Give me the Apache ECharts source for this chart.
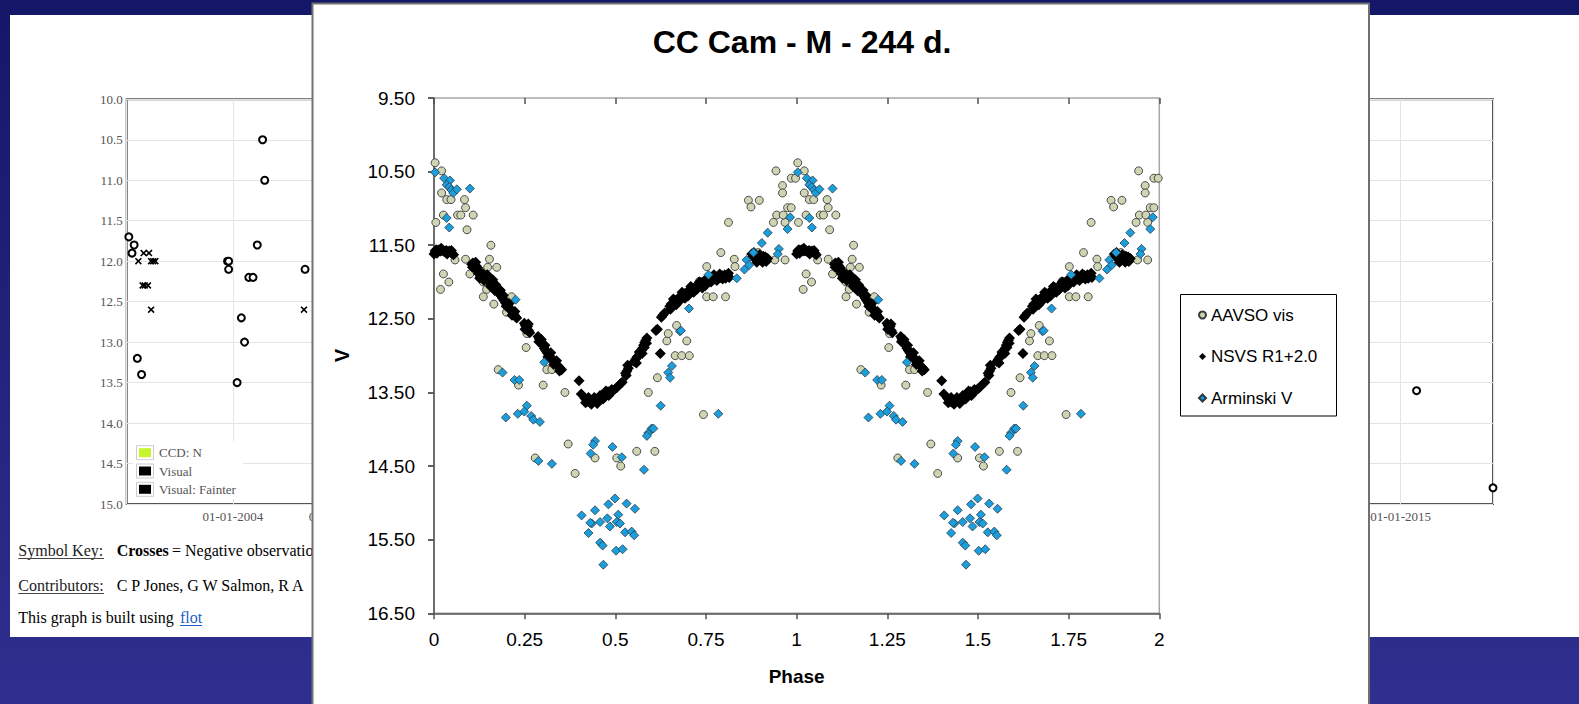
<!DOCTYPE html>
<html><head><meta charset="utf-8">
<script src="https://cdn.jsdelivr.net/npm/echarts@6/dist/echarts.min.js"></script>
<style>
html,body{margin:0;padding:0;width:1579px;height:704px;overflow:hidden;background:linear-gradient(to bottom,#141768 0%,#2f2f8f 100%);}
#panel{position:absolute;left:10px;top:15px;width:1569px;height:622px;background:#fff;}
#chart{position:absolute;left:0;top:0;width:1579px;height:704px;}
</style></head><body>
<div id="panel"></div>
<div id="chart"></div>
<script>
// ---------- Main chart (phase diagram) data: [phase, V mag], one cycle 0..1 ----------
const aavsoVis = [
[0.003,10.38],[0.021,10.49],[0.021,10.79],[0.035,10.88],[0.047,10.88],[0.084,10.88],[0.087,10.99],
[0.026,11.09],[0.065,11.09],[0.074,11.09],[0.108,11.09],[0.005,11.19],[0.091,11.29],[0.157,11.50],
[0.058,11.70],[0.087,11.69],[0.153,11.69],[0.148,11.80],[0.173,11.80],[0.099,11.89],[0.026,11.89],
[0.041,12.00],[0.018,12.10],[0.145,12.10],[0.136,12.00],[0.136,12.20],[0.165,12.30],[0.214,12.20],
[0.200,12.41],[0.256,12.70],[0.254,12.89],[0.177,13.19],[0.233,13.40],[0.301,13.40],[0.311,13.19],
[0.325,13.19],[0.361,13.50],[0.370,14.20],[0.279,14.39],[0.389,14.60],[0.444,14.39],[0.504,14.39],
[0.515,14.50],[0.559,14.30],[0.609,14.30],[0.591,13.50],[0.616,13.30],[0.642,12.80],[0.646,12.70],
[0.697,12.80],[0.665,13.00],[0.683,13.00],[0.704,13.00],[0.743,13.80],[0.669,12.59],[0.732,11.99],
[0.752,12.20],[0.770,12.20],[0.804,12.20],[0.752,11.79],[0.791,11.60],[0.828,11.69],[0.830,11.79],
[0.894,11.60],[0.918,11.70],[0.940,11.70],[0.968,11.70],[0.812,11.19],[0.936,11.19],[0.968,11.19],
[0.945,11.09],[0.963,11.09],[0.867,10.89],[0.897,10.89],[0.874,10.98],[0.975,10.99],[0.985,10.99],
[0.961,10.69],[0.961,10.79],[0.985,10.59],[0.997,10.59],[0.943,10.49]
];
const nsvsR1 = [
[0.000,11.62],[0.003,11.58],[0.006,11.56],[0.010,11.57],[0.014,11.56],[0.018,11.58],[0.022,11.57],
[0.026,11.58],[0.030,11.59],[0.034,11.57],[0.038,11.59],[0.042,11.58],[0.046,11.60],[0.050,11.61],[0.054,11.63],
[0.008,11.61],[0.020,11.54],[0.036,11.62],[0.048,11.57],
[0.104,11.76],[0.107,11.74],[0.110,11.77],[0.113,11.80],[0.116,11.78],[0.119,11.84],[0.122,11.88],[0.125,11.86],[0.128,11.92],
[0.106,11.80],[0.115,11.73],[0.121,11.81],[0.126,11.95],
[0.136,11.89],[0.139,11.93],[0.142,11.91],[0.145,11.95],[0.148,11.98],[0.151,11.94],[0.154,11.99],[0.157,12.02],
[0.160,12.00],[0.163,12.05],[0.166,12.07],[0.170,12.09],[0.173,12.12],
[0.138,11.98],[0.147,11.90],[0.156,12.06],[0.162,11.97],[0.168,12.12],[0.171,12.04],
[0.177,12.13],[0.181,12.16],[0.185,12.19],[0.189,12.22],[0.193,12.25],[0.197,12.28],[0.201,12.31],[0.205,12.33],
[0.209,12.36],[0.213,12.39],[0.217,12.41],[0.221,12.44],[0.225,12.47],[0.228,12.49],
[0.183,12.11],[0.191,12.18],[0.199,12.33],[0.207,12.29],[0.215,12.45],[0.223,12.40],
[0.249,12.56],[0.252,12.59],[0.255,12.62],[0.258,12.60],[0.261,12.66],[0.264,12.69],[0.251,12.64],[0.260,12.57],
[0.287,12.74],[0.290,12.77],[0.293,12.80],[0.296,12.78],[0.300,12.86],[0.304,12.90],[0.308,12.93],[0.312,12.96],
[0.316,12.99],[0.320,13.01],[0.324,13.04],[0.328,13.06],[0.332,13.09],[0.336,13.11],[0.340,13.13],[0.344,13.15],
[0.348,13.17],[0.352,13.19],
[0.289,12.81],[0.298,12.84],[0.306,12.86],[0.314,13.02],[0.322,12.96],[0.330,13.12],[0.338,13.07],[0.346,13.21],
[0.400,13.34],[0.406,13.52],
[0.416,13.58],[0.420,13.60],[0.424,13.62],[0.428,13.63],[0.432,13.61],[0.436,13.63],[0.440,13.62],[0.444,13.60],
[0.448,13.62],[0.452,13.59],[0.456,13.60],[0.460,13.57],[0.464,13.56],[0.468,13.53],[0.472,13.55],[0.476,13.51],
[0.480,13.49],[0.485,13.50],[0.490,13.46],[0.495,13.47],[0.500,13.45],[0.505,13.43],
[0.418,13.64],[0.426,13.57],[0.434,13.66],[0.442,13.57],[0.450,13.65],[0.458,13.54],[0.466,13.59],[0.474,13.48],[0.482,13.54],
[0.515,13.38],[0.519,13.36],[0.528,13.24],[0.532,13.21],[0.536,13.17],[0.552,13.08],[0.556,13.05],[0.560,13.02],
[0.564,13.00],[0.568,12.97],[0.572,12.93],[0.575,12.90],[0.578,12.86],[0.581,12.82],[0.584,12.79],[0.587,12.76],
[0.530,13.27],[0.534,13.13],[0.558,13.10],[0.566,12.95],[0.574,12.97],[0.580,12.89],[0.586,12.83],
[0.624,12.97],[0.612,12.66],[0.616,12.64],[0.627,12.48],[0.631,12.45],[0.636,12.42],
[0.650,12.33],[0.654,12.30],[0.658,12.32],[0.662,12.27],[0.666,12.25],[0.670,12.28],[0.674,12.22],[0.678,12.20],
[0.682,12.23],[0.686,12.18],[0.690,12.16],[0.694,12.19],[0.698,12.14],[0.702,12.12],[0.706,12.15],[0.710,12.10],
[0.714,12.08],[0.718,12.11],[0.722,12.06],[0.726,12.04],[0.730,12.07],[0.734,12.02],[0.738,12.05],[0.742,12.00],
[0.746,11.98],[0.750,12.02],[0.754,11.97],[0.758,11.99],[0.762,11.95],[0.766,11.97],[0.770,11.94],[0.774,11.96],
[0.778,11.93],[0.782,11.95],[0.786,11.92],[0.790,11.94],[0.794,11.91],[0.798,11.93],[0.802,11.90],[0.806,11.93],
[0.810,11.91],[0.814,11.94],
[0.652,12.37],[0.660,12.23],[0.668,12.31],[0.676,12.26],[0.684,12.14],[0.692,12.22],[0.700,12.19],[0.708,12.06],
[0.716,12.14],[0.724,12.10],[0.732,12.00],[0.740,12.08],[0.748,12.05],[0.756,11.94],[0.764,12.00],[0.772,11.90],
[0.780,11.98],[0.788,11.89],[0.796,11.96],[0.804,11.95],[0.812,11.88],
[0.876,11.62],[0.880,11.65],[0.884,11.68],[0.888,11.64],[0.892,11.69],[0.896,11.70],[0.900,11.66],[0.904,11.68],
[0.908,11.65],[0.912,11.70],[0.916,11.72],[0.920,11.68],
[0.882,11.60],[0.890,11.73],[0.898,11.63],[0.906,11.73],[0.914,11.66]
];
const arminskiV = [
[0.003,10.51],[0.028,10.59],[0.044,10.62],[0.035,10.68],[0.042,10.71],[0.048,10.75],[0.053,10.79],[0.063,10.74],
[0.099,10.73],[0.035,11.13],[0.042,11.26],[0.225,12.24],[0.304,13.09],[0.189,13.23],[0.222,13.33],[0.235,13.33],
[0.198,13.84],[0.231,13.79],[0.256,13.68],[0.249,13.76],[0.268,13.82],[0.274,13.87],[0.292,13.90],[0.288,14.43],
[0.325,14.47],[0.444,14.16],[0.439,14.21],[0.432,14.33],[0.492,14.24],[0.518,14.38],[0.579,14.55],
[0.407,15.17],[0.444,15.10],[0.481,15.02],[0.499,14.94],[0.531,15.01],[0.554,15.08],[0.435,15.28],[0.458,15.26],
[0.478,15.21],[0.508,15.16],[0.504,15.26],[0.513,15.28],[0.485,15.32],[0.426,15.41],[0.527,15.40],[0.545,15.39],
[0.552,15.44],[0.458,15.54],[0.465,15.58],[0.502,15.65],[0.520,15.63],[0.467,15.84],[0.431,15.27],
[0.625,13.68],[0.591,14.05],[0.600,13.99],[0.605,13.99],[0.587,14.09],[0.646,13.23],[0.651,13.30],[0.656,13.14],
[0.678,12.67],[0.784,13.79],[0.982,11.12],[0.975,11.28],[0.920,11.33],[0.904,11.47],[0.951,11.55],[0.948,11.62],
[0.881,11.60],[0.862,11.70],[0.869,11.77],[0.856,11.83],[0.835,11.95],[0.757,11.90],[0.703,12.36],[0.681,12.66]
];
const seriesNames = ['AAVSO vis','NSVS R1+2.0','Arminski V'];
const magTicks = [9.5,10.5,11.5,12.5,13.5,14.5,15.5,16.5];
const chartTitle = 'CC Cam - M - 244 d.';

// ---------- Background web page (flot light curve) data: [year, mag] ----------
const flotVisual = [
[2003.02,11.7],[2003.07,11.8],[2003.05,11.9],[2003.10,13.2],[2003.14,13.4],[2003.95,12.0],[2003.96,12.0],
[2003.96,12.1],[2004.04,13.5],[2004.08,12.7],[2004.11,13.0],[2004.15,12.2],[2004.19,12.2],[2004.23,11.8],
[2004.28,10.5],[2004.30,11.0],[2004.68,12.1],[2015.15,13.6],[2015.87,14.8]
];
const flotFainter = [
[2003.11,12.0],[2003.16,11.9],[2003.21,11.9],[2003.15,12.3],[2003.17,12.3],[2003.20,12.3],
[2003.23,12.0],[2003.25,12.0],[2003.27,12.0],[2003.23,12.6],[2004.67,12.6]
];
const flotLegend = [['CCD: N','#c6f52b'],['Visual','#000000'],['Visual: Fainter','#000000']];

// phase-folded plot shows the same observations in two consecutive cycles
const twoCycles = arr => arr.map(d => [d[0], d[1]]).concat(arr.map(d => [d[0] + 1, d[1]]));

const SANS = 'Liberation Sans, Arial, sans-serif';
const SERIF = 'Liberation Serif, Times New Roman, serif';

const chart = echarts.init(document.getElementById('chart'), null, {renderer: 'svg'});

const graphics = [];
// flot legend
graphics.push({type:'rect', shape:{x:133, y:441, width:110, height:58}, style:{fill:'rgba(255,255,255,0.9)'}, z:2, silent:true});
const legY = [452.7, 471, 489.3];
flotLegend.forEach((l, i) => {
  graphics.push({type:'rect', shape:{x:136.5, y:legY[i]-7, width:17, height:14}, style:{fill:'#fff', stroke:'#cccccc', lineWidth:1}, z:3});
  graphics.push({type:'rect', shape:{x:139, y:legY[i]-4.5, width:12, height:9}, style:{fill:l[1]}, z:3});
  graphics.push({type:'text', x:159, y:legY[i], style:{text:l[0], font:'13px ' + SERIF, fill:'#545454', textVerticalAlign:'middle'}, z:3});
});
// page text under the flot chart
const pageText = (x, y, t, font, fill) => graphics.push({type:'text', x, y, style:{text:t, font, fill, textVerticalAlign:'middle'}, z:2});
const underline = (x1, x2, y, c) => graphics.push({type:'line', shape:{x1, y1:y, x2, y2:y}, style:{stroke:c, lineWidth:1}, z:2});
pageText(18.3, 550, 'Symbol Key:', '16px ' + SERIF, '#222');
underline(18.3, 104, 558.5, '#444');
pageText(116.7, 550, 'Crosses', 'bold 16px ' + SERIF, '#000');
pageText(172, 550, '= Negative observations', '16px ' + SERIF, '#000');
pageText(18.3, 585, 'Contributors:', '16px ' + SERIF, '#222');
underline(18.3, 104, 593.5, '#444');
pageText(116.7, 585, 'C P Jones, G W Salmon, R A', '16px ' + SERIF, '#000');
pageText(18.3, 617, 'This graph is built using', '16px ' + SERIF, '#000');
pageText(180, 617, 'flot', '16px ' + SERIF, '#1a5fc8');
underline(180, 202, 625.5, '#1a5fc8');
// foreground chart panel
graphics.push({type:'rect', shape:{x:312.5, y:3.5, width:1056.5, height:720}, style:{fill:'#ffffff', stroke:'#707070', lineWidth:2}, z:5});
// main legend box
graphics.push({type:'rect', shape:{x:1180.5, y:294.5, width:156, height:121.5}, style:{fill:'#ffffff', stroke:'#000', lineWidth:1}, z:14});

const option = {
  animation: false,
  title: {text: chartTitle, left: 797, top: 21, textAlign: 'center', z: 20,
    textStyle: {fontFamily: SANS, fontWeight: 'bold', fontSize: 32, color: '#000'}},
  legend: {
    data: [{name: seriesNames[0], icon: 'circle'}, {name: seriesNames[1], icon: 'diamond'}, {name: seriesNames[2], icon: 'diamond'}],
    orient: 'vertical', left: 1193, top: 300, itemWidth: 7, itemHeight: 7, itemGap: 21.5, selectedMode: false, z: 20,
    textStyle: {fontFamily: SANS, fontSize: 17, color: '#000', lineHeight: 20}
  },
  graphic: {elements: graphics},
  grid: [
    {left: 126.7, top: 99.3, width: 1366.3, height: 404.7, show: true, borderColor: '#545454', borderWidth: 2, backgroundColor: 'transparent', z: 0},
    {left: 434, top: 98, width: 725.3, height: 515.3, show: true, borderColor: '#a6a6a6', borderWidth: 1.5, backgroundColor: '#fff', z: 6}
  ],
  xAxis: [
    {gridIndex: 0, type: 'value', min: 2003, max: 2015.87, interval: 1, z: 0,
      axisLine: {show: false}, axisTick: {show: false},
      splitLine: {show: true, lineStyle: {color: '#e4e4e4', width: 1}},
      axisLabel: {formatter: v => '01-01-' + v, showMinLabel: false, showMaxLabel: false, fontFamily: SERIF, fontSize: 13, color: '#545454', margin: 6}},
    {gridIndex: 1, type: 'value', min: 0, max: 2, interval: 0.25, z: 8,
      axisLine: {show: true, onZero: false, lineStyle: {color: '#555', width: 1.5}},
      axisTick: {show: true, length: 6, lineStyle: {color: '#555', width: 1.5}},
      splitLine: {show: false},
      axisLabel: {fontFamily: SANS, fontSize: 19, color: '#000', margin: 17},
      name: 'Phase', nameLocation: 'middle', nameGap: 54,
      nameTextStyle: {fontFamily: SANS, fontWeight: 'bold', fontSize: 19, color: '#000'}},
    {gridIndex: 1, type: 'value', min: 0, max: 2, interval: 0.25, z: 8,
      axisLine: {show: false}, axisTick: {show: true, inside: true, length: 6, lineStyle: {color: '#555', width: 1.5}},
      splitLine: {show: false}, axisLabel: {show: false}}
  ],
  yAxis: [
    {gridIndex: 0, type: 'value', inverse: true, min: 10, max: 15, interval: 0.5, z: 0,
      axisLine: {show: false}, axisTick: {show: false},
      splitLine: {show: true, lineStyle: {color: '#e4e4e4', width: 1}},
      axisLabel: {formatter: v => v.toFixed(1), fontFamily: SERIF, fontSize: 13, color: '#545454', margin: 4}},
    {gridIndex: 1, type: 'value', inverse: true, min: 9.5, max: 16.5, z: 8,
      axisLine: {show: true, onZero: false, lineStyle: {color: '#555', width: 1.5}},
      axisTick: {show: true, length: 6, customValues: magTicks, lineStyle: {color: '#555', width: 1.5}},
      splitLine: {show: false},
      axisLabel: {customValues: magTicks, formatter: v => v.toFixed(2), fontFamily: SANS, fontSize: 19, color: '#000', margin: 19},
      name: 'V', nameLocation: 'middle', nameGap: 82, nameRotate: 90,
      nameTextStyle: {fontFamily: SANS, fontWeight: 'bold', fontSize: 20, color: '#000'}},
    {gridIndex: 1, type: 'value', inverse: true, min: 9.5, max: 16.5, z: 8,
      axisLine: {show: false},
      axisTick: {show: true, inside: true, length: 6, customValues: magTicks, lineStyle: {color: '#555', width: 1.5}},
      splitLine: {show: false}, axisLabel: {show: false, customValues: magTicks}}
  ],
  series: [
    {name: 'Visual', type: 'scatter', xAxisIndex: 0, yAxisIndex: 0, data: flotVisual, z: 1, silent: true,
      symbol: 'circle', symbolSize: 7, itemStyle: {color: '#fff', borderColor: '#000', borderWidth: 2, opacity: 1}},
    {name: 'Visual: Fainter', type: 'scatter', xAxisIndex: 0, yAxisIndex: 0, data: flotFainter, z: 1, silent: true,
      symbol: 'path://M0,1.6L1.6,0L5,3.4L8.4,0L10,1.6L6.6,5L10,8.4L8.4,10L5,6.6L1.6,10L0,8.4L3.4,5Z', symbolSize: 7, itemStyle: {color: '#000', opacity: 1}},
    {name: seriesNames[0], type: 'scatter', xAxisIndex: 1, yAxisIndex: 1, data: twoCycles(aavsoVis), z: 10, silent: true,
      symbol: 'circle', symbolSize: 8, itemStyle: {color: '#cdd5b3', borderColor: '#3c3c3c', borderWidth: 0.9, opacity: 1}},
    {name: seriesNames[1], type: 'scatter', xAxisIndex: 1, yAxisIndex: 1, data: twoCycles(nsvsR1), z: 11, silent: true,
      symbol: 'diamond', symbolSize: 11, itemStyle: {color: '#000', opacity: 1}},
    {name: seriesNames[2], type: 'scatter', xAxisIndex: 1, yAxisIndex: 1, data: twoCycles(arminskiV), z: 12, silent: true,
      symbol: 'diamond', symbolSize: 9, itemStyle: {color: '#1b9fdc', borderColor: '#2b3a48', borderWidth: 0.8, opacity: 1}}
  ]
};
chart.setOption(option);
</script></body></html>
